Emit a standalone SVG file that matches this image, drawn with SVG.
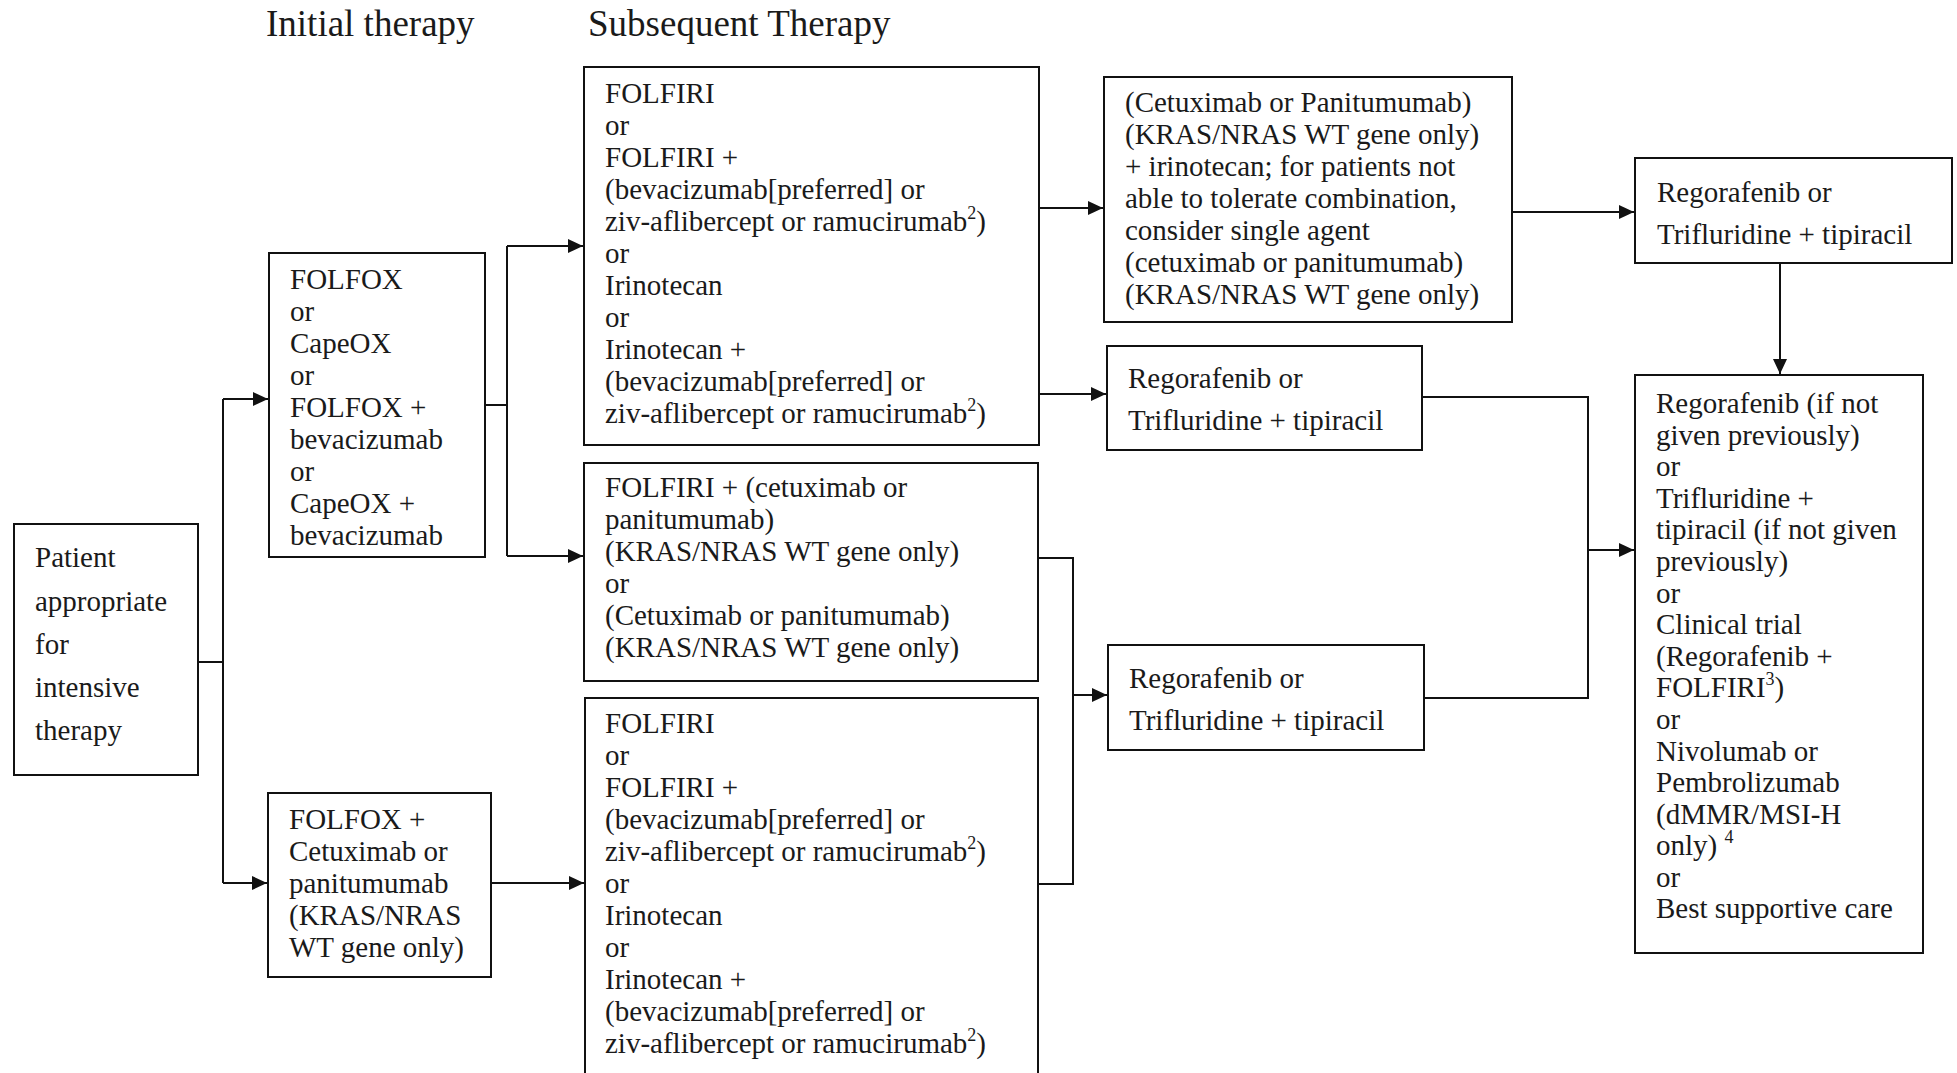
<svg xmlns="http://www.w3.org/2000/svg" width="1957" height="1073" viewBox="0 0 1957 1073">
<style>
text{font-family:"Liberation Serif","Times New Roman",serif;font-size:29px;fill:#1a1a1a}
.h{font-size:37px}
.box{fill:#fff;stroke:#111;stroke-width:2}
.c{fill:none;stroke:#111;stroke-width:2}
.sup{font-size:18px}
</style>
<defs>
<marker id="ah" markerUnits="userSpaceOnUse" markerWidth="16" markerHeight="14" refX="15" refY="7" orient="auto">
<path d="M0,0 L15,7 L0,14 Z" fill="#111"/>
</marker>
</defs>
<rect width="1957" height="1073" fill="#fff"/>
<text class="h" x="266" y="36">Initial therapy</text>
<text class="h" x="588" y="36">Subsequent Therapy</text>

<g id="connectors">
<path class="c" d="M198,662 H223 M223,399 V883"/>
<path class="c" d="M223,399 H268" marker-end="url(#ah)"/>
<path class="c" d="M223,883 H267" marker-end="url(#ah)"/>
<path class="c" d="M485,405 H507 M507,246 V556"/>
<path class="c" d="M507,246 H583" marker-end="url(#ah)"/>
<path class="c" d="M507,556 H583" marker-end="url(#ah)"/>
<path class="c" d="M491,883 H584" marker-end="url(#ah)"/>
<path class="c" d="M1039,208 H1103" marker-end="url(#ah)"/>
<path class="c" d="M1039,394 H1106" marker-end="url(#ah)"/>
<path class="c" d="M1512,212 H1634" marker-end="url(#ah)"/>
<path class="c" d="M1780,263 V374" marker-end="url(#ah)"/>
<path class="c" d="M1422,397 H1588 V698 H1424"/>
<path class="c" d="M1588,550 H1634" marker-end="url(#ah)"/>
<path class="c" d="M1038,558 H1073 V884 H1038"/>
<path class="c" d="M1073,695 H1107" marker-end="url(#ah)"/>
</g>

<g id="patient">
<rect class="box" x="14" y="524" width="184" height="251"/>
<text x="35" y="567">Patient</text>
<text x="35" y="611">appropriate</text>
<text x="35" y="654">for</text>
<text x="35" y="697">intensive</text>
<text x="35" y="740">therapy</text>
</g>

<g id="folfox">
<rect class="box" x="269" y="253" width="216" height="304"/>
<text x="290" y="289">FOLFOX</text>
<text x="290" y="321">or</text>
<text x="290" y="353">CapeOX</text>
<text x="290" y="385">or</text>
<text x="290" y="417">FOLFOX +</text>
<text x="290" y="449">bevacizumab</text>
<text x="290" y="481">or</text>
<text x="290" y="513">CapeOX +</text>
<text x="290" y="545">bevacizumab</text>
</g>

<g id="folfox-cetux">
<rect class="box" x="268" y="793" width="223" height="184"/>
<text x="289" y="829">FOLFOX +</text>
<text x="289" y="861">Cetuximab or</text>
<text x="289" y="893">panitumumab</text>
<text x="289" y="925">(KRAS/NRAS</text>
<text x="289" y="957">WT gene only)</text>
</g>

<g id="folfiri-top">
<rect class="box" x="584" y="67" width="455" height="378"/>
<text x="605" y="103">FOLFIRI</text>
<text x="605" y="135">or</text>
<text x="605" y="167">FOLFIRI +</text>
<text x="605" y="199">(bevacizumab[preferred] or</text>
<text x="605" y="231">ziv-aflibercept or ramucirumab<tspan class="sup" dy="-12">2</tspan><tspan dy="12">)</tspan></text>
<text x="605" y="263">or</text>
<text x="605" y="295">Irinotecan</text>
<text x="605" y="327">or</text>
<text x="605" y="359">Irinotecan +</text>
<text x="605" y="391">(bevacizumab[preferred] or</text>
<text x="605" y="423">ziv-aflibercept or ramucirumab<tspan class="sup" dy="-12">2</tspan><tspan dy="12">)</tspan></text>
</g>

<g id="folfiri-cetux">
<rect class="box" x="584" y="463" width="454" height="218"/>
<text x="605" y="497">FOLFIRI + (cetuximab or</text>
<text x="605" y="529">panitumumab)</text>
<text x="605" y="561">(KRAS/NRAS WT gene only)</text>
<text x="605" y="593">or</text>
<text x="605" y="625">(Cetuximab or panitumumab)</text>
<text x="605" y="657">(KRAS/NRAS WT gene only)</text>
</g>

<g id="folfiri-bottom">
<rect class="box" x="585" y="698" width="453" height="390"/>
<text x="605" y="733">FOLFIRI</text>
<text x="605" y="765">or</text>
<text x="605" y="797">FOLFIRI +</text>
<text x="605" y="829">(bevacizumab[preferred] or</text>
<text x="605" y="861">ziv-aflibercept or ramucirumab<tspan class="sup" dy="-12">2</tspan><tspan dy="12">)</tspan></text>
<text x="605" y="893">or</text>
<text x="605" y="925">Irinotecan</text>
<text x="605" y="957">or</text>
<text x="605" y="989">Irinotecan +</text>
<text x="605" y="1021">(bevacizumab[preferred] or</text>
<text x="605" y="1053">ziv-aflibercept or ramucirumab<tspan class="sup" dy="-12">2</tspan><tspan dy="12">)</tspan></text>
</g>

<g id="cetux-irino">
<rect class="box" x="1104" y="77" width="408" height="245"/>
<text x="1125" y="112">(Cetuximab or Panitumumab)</text>
<text x="1125" y="144">(KRAS/NRAS WT gene only)</text>
<text x="1125" y="176">+ irinotecan; for patients not</text>
<text x="1125" y="208">able to tolerate combination,</text>
<text x="1125" y="240">consider single agent</text>
<text x="1125" y="272">(cetuximab or panitumumab)</text>
<text x="1125" y="304">(KRAS/NRAS WT gene only)</text>
</g>

<g id="rego-top">
<rect class="box" x="1635" y="158" width="317" height="105"/>
<text x="1657" y="202">Regorafenib or</text>
<text x="1657" y="244">Trifluridine + tipiracil</text>
</g>

<g id="rego-mid">
<rect class="box" x="1107" y="346" width="315" height="104"/>
<text x="1128" y="388">Regorafenib or</text>
<text x="1128" y="430">Trifluridine + tipiracil</text>
</g>

<g id="rego-bottom">
<rect class="box" x="1108" y="645" width="316" height="105"/>
<text x="1129" y="688">Regorafenib or</text>
<text x="1129" y="730">Trifluridine + tipiracil</text>
</g>

<g id="final">
<rect class="box" x="1635" y="375" width="288" height="578"/>
<text x="1656" y="413">Regorafenib (if not</text>
<text x="1656" y="445">given previously)</text>
<text x="1656" y="476">or</text>
<text x="1656" y="508">Trifluridine +</text>
<text x="1656" y="539">tipiracil (if not given</text>
<text x="1656" y="571">previously)</text>
<text x="1656" y="603">or</text>
<text x="1656" y="634">Clinical trial</text>
<text x="1656" y="666">(Regorafenib +</text>
<text x="1656" y="697">FOLFIRI<tspan class="sup" dy="-12">3</tspan><tspan dy="12">)</tspan></text>
<text x="1656" y="729">or</text>
<text x="1656" y="761">Nivolumab or</text>
<text x="1656" y="792">Pembrolizumab</text>
<text x="1656" y="824">(dMMR/MSI-H</text>
<text x="1656" y="855">only) <tspan class="sup" dy="-12">4</tspan></text>
<text x="1656" y="887">or</text>
<text x="1656" y="918">Best supportive care</text>
</g>
</svg>
